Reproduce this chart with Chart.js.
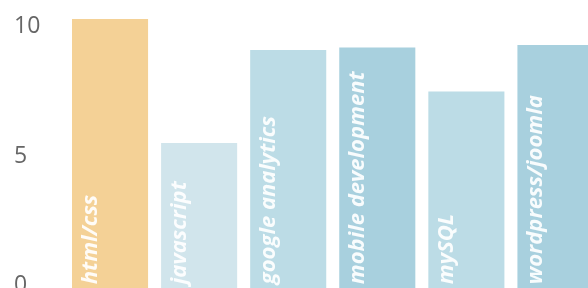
<!DOCTYPE html>
<html>
<head>
<meta charset="utf-8">
<script src="https://cdn.jsdelivr.net/npm/chart.js@4/dist/chart.umd.min.js"></script>
<style>
  html, body { margin: 0; padding: 0; overflow: hidden; background: #fff; width: 588px; height: 288px; }
  canvas { display: block; }
</style>
</head>
<body>
<canvas id="c" width="600" height="311"></canvas>
<script>
const categories = ["html/css", "javascript", "google analytics", "mobile development", "mySQL", "wordpress/joomla"];
const skillValues = [10.3, 5.5, 9.1, 9.2, 7.5, 9.3];
const barColors = ["#F4D196", "#D1E5EC", "#BCDCE6", "#A8D0DE", "#BCDCE6", "#A8D0DE"];
const yTicks = [0, 5, 10];
const yMin = -1;
const yMax = 11;

const innerLabels = {
  id: 'innerLabels',
  afterDatasetsDraw(chart) {
    const ctx = chart.ctx;
    const meta = chart.getDatasetMeta(0);
    const zero = chart.scales.y.getPixelForValue(0);
    ctx.save();
    ctx.font = 'italic bold 22px "Open Sans"';
    ctx.fillStyle = 'rgba(255,255,255,0.92)';
    ctx.textAlign = 'left';
    ctx.textBaseline = 'alphabetic';
    meta.data.forEach((bar, i) => {
      ctx.save();
      ctx.translate(bar.x - 13, zero - 1);
      ctx.rotate(-Math.PI / 2);
      ctx.fillText(categories[i], 0, 0);
      ctx.restore();
    });
    ctx.restore();
  }
};

new Chart(document.getElementById('c'), {
  type: 'bar',
  data: {
    labels: categories,
    datasets: [{
      data: skillValues,
      backgroundColor: barColors,
      borderWidth: 0,
      base: yMin,
      categoryPercentage: 1,
      barPercentage: 0.854
    }]
  },
  options: {
    responsive: false,
    animation: false,
    devicePixelRatio: 1,
    layout: { padding: { left: 14, top: 1, right: 0, bottom: 0 } },
    plugins: { legend: { display: false }, tooltip: { enabled: false } },
    scales: {
      x: { display: false },
      y: {
        min: yMin,
        max: yMax,
        grid: { display: false },
        border: { display: false },
        afterBuildTicks: (axis) => { axis.ticks = yTicks.map(v => ({ value: v })); },
        afterFit: (axis) => { axis.width = 51.5; axis.paddingTop = 0; axis.paddingBottom = 0; },
        ticks: {
          crossAlign: 'far',
          color: '#666666',
          font: { family: '"Open Sans"', size: 23 }
        }
      }
    }
  },
  plugins: [innerLabels]
});
</script>
</body>
</html>
